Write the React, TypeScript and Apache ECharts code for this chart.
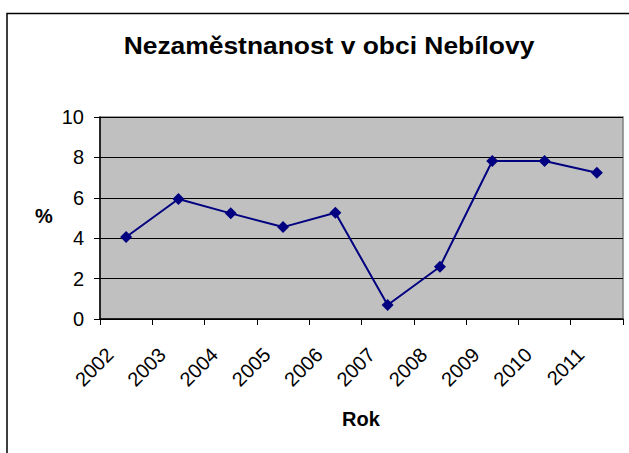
import React, { useEffect, useRef } from "react";
import * as echarts from "echarts";

const years: string[] = ["2002", "2003", "2004", "2005", "2006", "2007", "2008", "2009", "2010", "2011"];
const unemployment: number[] = [4.06, 5.94, 5.23, 4.55, 5.26, 0.69, 2.59, 7.82, 7.82, 7.24];
const yMin = 0;
const yMax = 10;
const yStep = 2;
const chartTitle = "Nezaměstnanost v obci Nebílovy";
const xAxisTitle = "Rok";
const yAxisTitle = "%";

const FONT = "'Liberation Sans', Arial, sans-serif";

export default function App() {
  const ref = useRef<HTMLDivElement>(null);
  useEffect(() => {
    document.body.style.margin = "0";
    if (!ref.current) return;
    const chart = echarts.init(ref.current, null, { renderer: "svg" });
    chart.setOption({
      animation: false,
      backgroundColor: "#ffffff",
      graphic: [
        {
          type: "rect",
          shape: { x: 7, y: 13.5, width: 660, height: 480 },
          style: { fill: "none", stroke: "#000", lineWidth: 1.5 },
          silent: true,
        },
        {
          type: "text",
          x: 329,
          y: 45,
          scaleX: 1.1,
          style: {
            text: chartTitle,
            font: `bold 24px ${FONT}`,
            fill: "#000",
            textAlign: "center",
            textVerticalAlign: "middle",
          },
        },
        {
          type: "text",
          x: 44,
          y: 216,
          style: {
            text: yAxisTitle,
            font: `bold 20px ${FONT}`,
            fill: "#000",
            textAlign: "center",
            textVerticalAlign: "middle",
          },
        },
        {
          type: "text",
          x: 361,
          y: 419,
          style: {
            text: xAxisTitle,
            font: `bold 20px ${FONT}`,
            fill: "#000",
            textAlign: "center",
            textVerticalAlign: "middle",
          },
        },
      ],
      grid: {
        left: 100,
        top: 117,
        width: 523,
        height: 202,
        show: true,
        backgroundColor: "#C0C0C0",
        borderColor: "#808080",
        borderWidth: 1.5,
      },
      xAxis: {
        type: "category",
        data: years,
        boundaryGap: true,
        axisLine: { show: true, lineStyle: { color: "#000", width: 1.5 } },
        axisTick: { show: true, length: 6, alignWithLabel: false, lineStyle: { color: "#000", width: 1 } },
        axisLabel: {
          interval: 0,
          rotate: 45,
          margin: 16,
          padding: [0, 23, 0, 0],
          fontFamily: FONT,
          fontSize: 20,
          color: "#000",
        },
        splitLine: { show: false },
      },
      yAxis: {
        type: "value",
        min: yMin,
        max: yMax,
        interval: yStep,
        axisLine: { show: true, lineStyle: { color: "#000", width: 1.5 } },
        axisTick: { show: true, length: 6, lineStyle: { color: "#000", width: 1 } },
        axisLabel: { margin: 16, fontFamily: FONT, fontSize: 20, color: "#000" },
        splitLine: { show: true, lineStyle: { color: "#000", width: 1 } },
      },
      series: [
        {
          type: "line",
          data: unemployment,
          symbol: "diamond",
          symbolSize: 12,
          lineStyle: { color: "#000080", width: 2 },
          itemStyle: { color: "#000080" },
        },
      ],
    });
    return () => chart.dispose();
  }, []);
  return <div ref={ref} style={{ position: "absolute", left: 0, top: 0, width: 629, height: 453 }} />;
}
